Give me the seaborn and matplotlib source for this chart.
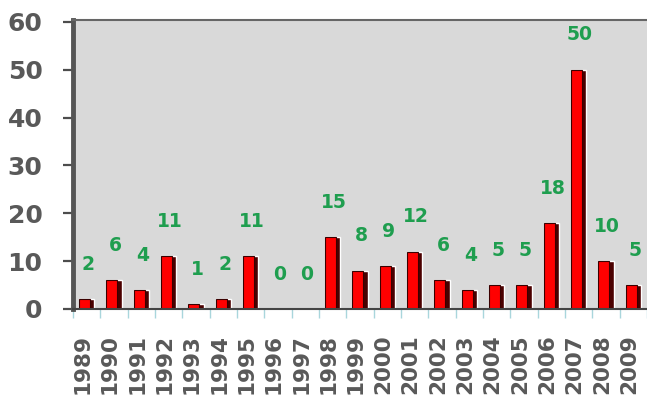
import matplotlib
matplotlib.use("Agg")
import matplotlib.pyplot as plt
import matplotlib.transforms as mtransforms
import seaborn as sns
import numpy as np

# Data
years = [str(y) for y in range(1989, 2010)]
counts = [2, 6, 4, 11, 1, 2, 11, 0, 0, 15, 8, 9, 12, 6, 4, 5, 5, 18, 50, 10, 5]
y_ticks = [0, 10, 20, 30, 40, 50, 60]

sns.set_theme(style="white")
plt.rcParams['font.family'] = ['DejaVu Sans']
plt.rcParams['font.weight'] = 'bold'
plt.rcParams['ytick.left'] = True
plt.rcParams['ytick.major.size'] = 7
plt.rcParams['ytick.major.width'] = 1.6
plt.rcParams['ytick.color'] = '#4d4d4d'
plt.rcParams['ytick.direction'] = 'out'

fig = plt.figure(figsize=(6.47, 4.09), dpi=100)
ax = fig.add_axes([73 / 647, 100 / 409, 1 - 73 / 647, 289 / 409])
ax.set_facecolor('#d9d9d9')

# dark back layer gives the 3D side of each bar
sns.barplot(x=years, y=counts, color='#4a0000', width=0.55, saturation=1, ax=ax)
n_back = len(ax.patches)
sns.barplot(x=years, y=counts, color='#ff0000', width=0.40, saturation=1,
            edgecolor='#3a0000', linewidth=0.8, ax=ax)
for p in ax.patches[n_back:]:
    p.set_x(p.get_x() - 0.075)

# green value labels
for i, v in enumerate(counts):
    ax.text(i + 0.05, v + 5.3, str(v), ha='center', va='bottom',
            color='#1f9e4f', fontsize=13.5, fontweight='bold')

ax.set_xlim(-0.5, len(years) - 0.5)
ax.set_ylim(0, 60.4)
ax.set_yticks(y_ticks)
ax.set_yticklabels([str(t) for t in y_ticks], fontsize=18, fontweight='heavy', color='#595959')
ax.tick_params(axis='y', which='major', left=True, length=7, width=1.6,
               color='#4d4d4d', pad=15)

ax.set_xticks(range(len(years)))
ax.set_xticklabels(years, rotation=90, fontsize=15.5, fontweight='heavy', color='#595959')
ax.tick_params(axis='x', which='major', bottom=False, length=0, pad=18)
ax.set_xticks(np.arange(-0.5, len(years), 1), minor=True)
ax.tick_params(axis='x', which='minor', bottom=True, length=6.5, width=1, color='#a9d6dc')
shift = mtransforms.ScaledTranslation(-4 / 100, 0, fig.dpi_scale_trans)
for lbl in ax.get_xticklabels():
    lbl.set_transform(lbl.get_transform() + shift)

ax.set_xlabel('')
ax.set_ylabel('')
ax.grid(False)

ax.spines['left'].set_color('#555555')
ax.spines['left'].set_linewidth(3.5)
ax.spines['top'].set_color('#666666')
ax.spines['top'].set_linewidth(1.5)
ax.spines['bottom'].set_color('#444444')
ax.spines['bottom'].set_linewidth(1.5)
ax.spines['right'].set_visible(False)

fig.savefig('out.png', dpi=100)
